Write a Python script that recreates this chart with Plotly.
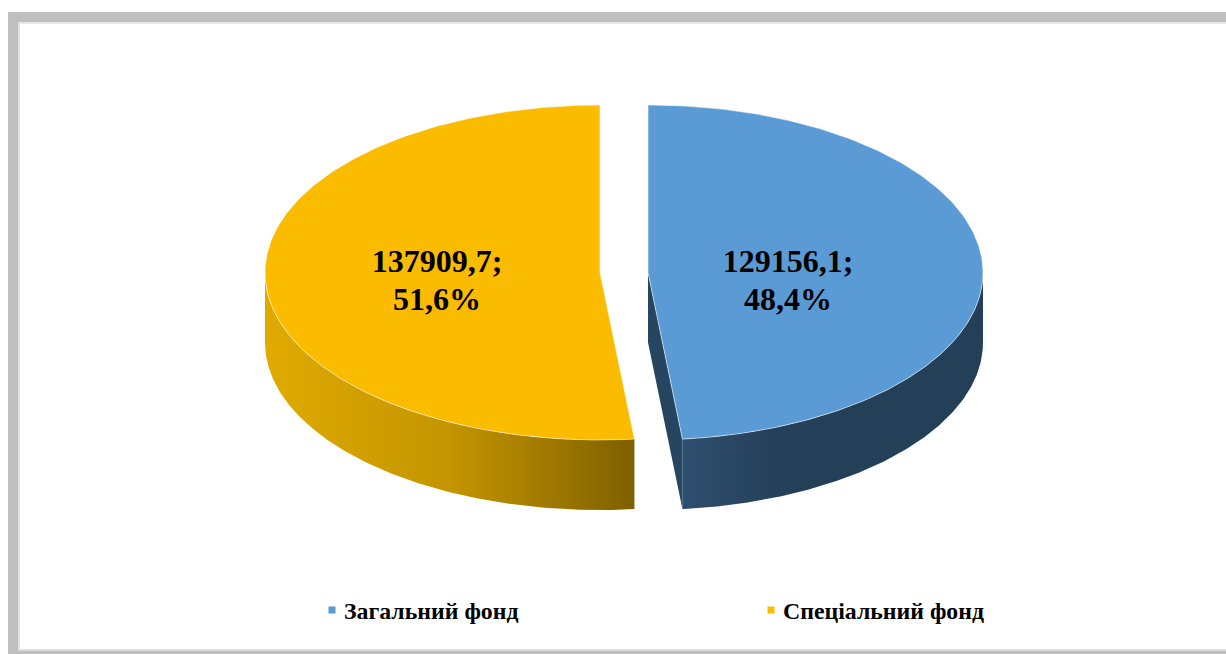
import numpy as np
import plotly.graph_objects as go

categories = ["Загальний фонд", "Спеціальний фонд"]
values = [129156.1, 137909.7]
top_colors = ["#5B9BD5", "#FBBC00"]

# pseudo-3d pie drawn on a pixel sized axis, blue slice starts at 12 o'clock
RX, RY = 335, 167.5
CY = 272.5
DEPTH = 70
APEX_X = [648, 600]
FONT = "Liberation Serif"

total = sum(values)
split = values[0] / total * 360


def rim(cx, start, end, dy=0):
    t = np.radians(np.linspace(start, end, 200))
    return cx + RX * np.sin(t), CY - RY * np.cos(t) + dy


def wall(cx, start, end, gradient):
    x1, y1 = rim(cx, start, end)
    x2, y2 = rim(cx, start, end, DEPTH)
    return go.Scatter(
        x=np.r_[x1, x2[::-1], x1[0]], y=np.r_[y1, y2[::-1], y1[0]],
        mode="lines", line=dict(width=0), fill="toself",
        fillgradient=dict(type="horizontal", colorscale=gradient),
        hoverinfo="skip", showlegend=False)


def top_face(cx, start, end, color):
    x, y = rim(cx, start, end)
    return go.Scatter(
        x=np.r_[cx, x, cx], y=np.r_[CY, y, CY],
        mode="lines", line=dict(width=1, color="rgba(255,255,255,0.55)"),
        fill="toself", fillcolor=color,
        hoverinfo="skip", showlegend=False)


fig = go.Figure()

# outer walls
fig.add_trace(wall(APEX_X[1], split, 270,
                   [[0, "#E0AA00"], [0.5, "#C49500"], [1, "#7F6000"]]))
fig.add_trace(wall(APEX_X[0], 90, split,
                   [[0, "#2F4F70"], [0.3, "#25405A"], [1, "#234058"]]))

# cut face of the blue slice
ex, ey = rim(APEX_X[0], split, split)
fig.add_trace(go.Scatter(
    x=[APEX_X[0], ex[0], ex[0], APEX_X[0], APEX_X[0]],
    y=[CY, ey[0], ey[0] + DEPTH, CY + DEPTH, CY],
    mode="lines", line=dict(width=0), fill="toself", fillcolor="#264560",
    hoverinfo="skip", showlegend=False))

fig.add_trace(top_face(APEX_X[0], 0, split, top_colors[0]))
fig.add_trace(top_face(APEX_X[1], split, 360, top_colors[1]))

# two text rows, the default <br> spacing is too wide here
amounts = ["<b>" + f"{v:.1f}".replace(".", ",") + ";</b>" for v in values]
shares = ["<b>" + f"{v / total * 100:.1f}".replace(".", ",") + "%</b>" for v in values]
for row, y in [(amounts, 264), (shares, 302)]:
    fig.add_trace(go.Scatter(
        x=[788, 437], y=[y, y], mode="text", text=row,
        textfont=dict(family=FONT, size=32, color="#000000"),
        hoverinfo="skip", showlegend=False))

# legend
for name, color, mx in zip(categories, top_colors, [332, 771]):
    fig.add_trace(go.Scatter(
        x=[mx], y=[610], mode="markers",
        marker=dict(symbol="square", size=7, color=color),
        hoverinfo="skip", showlegend=False))
    fig.add_annotation(
        x=mx + 12, y=611, text=f"<b>{name}</b>", showarrow=False,
        xanchor="left", yanchor="middle", xshift=-2,
        font=dict(family=FONT, size=23.8, color="#000000"))

frame = [
    (8, 12, 1226, 22, "#BFBFBF"),
    (8, 12, 18, 654, "#BFBFBF"),
    (18, 22, 1226, 24, "#E6E6E6"),
    (18, 22, 20, 649, "#E0E0E0"),
    (18, 649, 1226, 651, "#DEDEDE"),
    (18, 651, 1226, 654, "#BFBFBF"),
]
for x0, y0, x1, y1, c in frame:
    fig.add_shape(type="rect", x0=x0, y0=y0, x1=x1, y1=y1,
                  fillcolor=c, line_width=0, layer="below")

fig.update_xaxes(range=[0, 1226], visible=False)
fig.update_yaxes(range=[654, 0], visible=False)
fig.update_layout(
    width=1226, height=654,
    margin=dict(l=0, r=0, t=0, b=0),
    paper_bgcolor="#FFFFFF", plot_bgcolor="#FFFFFF")

fig.write_html("out.html", config=dict(displayModeBar=False),
               post_script="document.body.style.margin='0';")
